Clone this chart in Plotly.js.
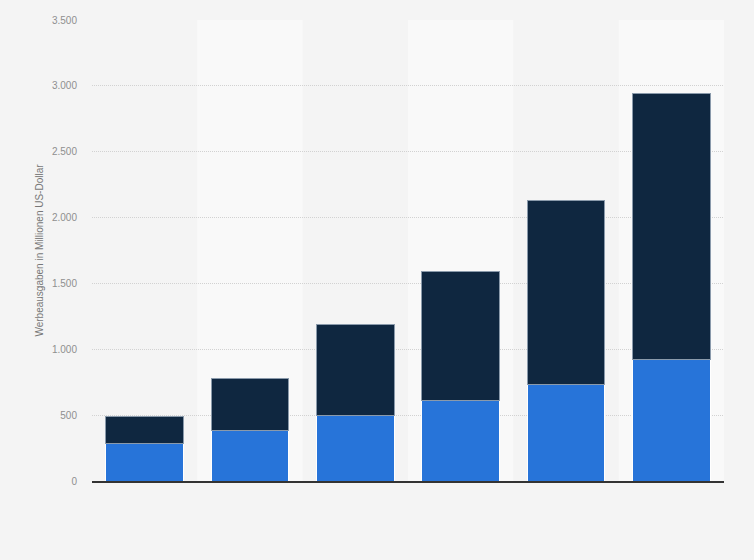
<!DOCTYPE html>
<html>
<head>
<meta charset="utf-8">
<script src="https://cdn.plot.ly/plotly-3.0.1.min.js"></script>
<style>
html,body{margin:0;padding:0;background:#f4f4f4;}
#chart{width:754px;height:560px;}
</style>
</head>
<body>
<div id="chart"></div>
<script>
var categories = ["1", "2", "3", "4", "5", "6"];
var seriesLower = [285, 387, 494, 610, 729, 919];
var seriesUpper = [205, 395, 691, 977, 1401, 2020];
var yTickVals = [0, 500, 1000, 1500, 2000, 2500, 3000, 3500];
var yTickText = ["0", "500", "1.000", "1.500", "2.000", "2.500", "3.000", "3.500"];

var traces = [
  {
    type: "bar", x: categories, y: seriesLower,
    marker: {color: "#2774d9", line: {color: "#ffffff", width: 1}},
    hoverinfo: "y", showlegend: false
  },
  {
    type: "bar", x: categories, y: seriesUpper,
    marker: {color: "#0f2740", line: {color: "#8a9aab", width: 1}},
    hoverinfo: "y", showlegend: false
  }
];

var shapes = [];
categories.forEach(function(c, i) {
  if (i % 2 === 1) {
    shapes.push({
      type: "rect", xref: "x", yref: "paper", layer: "below",
      x0: i - 0.5, x1: i + 0.5, y0: 0, y1: 1,
      fillcolor: "#f9f9f9", line: {width: 0}
    });
  }
});

var layout = {
  width: 754, height: 560,
  paper_bgcolor: "#f4f4f4", plot_bgcolor: "#f4f4f4",
  margin: {l: 92, r: 30, t: 20, b: 79},
  barmode: "stack",
  bargap: 0.26,
  shapes: shapes,
  font: {family: "Liberation Sans, Arial, sans-serif", color: "#666666", size: 10},
  xaxis: {
    type: "category", showticklabels: false, showgrid: false,
    showline: true, linecolor: "#333333", linewidth: 1.5,
    ticks: "", zeroline: false, range: [-0.5, 5.5], fixedrange: true
  },
  yaxis: {
    range: [0, 3500], tickvals: yTickVals, ticktext: yTickText,
    showgrid: true, gridcolor: "#d2d2d2", griddash: "1px,1px", gridwidth: 1,
    zeroline: false, showline: false, ticks: "", ticklen: 0,
    ticklabelstandoff: 14,
    tickfont: {size: 10, color: "#8f8f8f"},
    automargin: false,
    title: {text: "Werbeausgaben in Millionen US-Dollar", font: {size: 10, color: "#777777"}, standoff: 6}
  }
};

Plotly.newPlot("chart", traces, layout, {displayModeBar: false, staticPlot: true});
</script>
</body>
</html>
